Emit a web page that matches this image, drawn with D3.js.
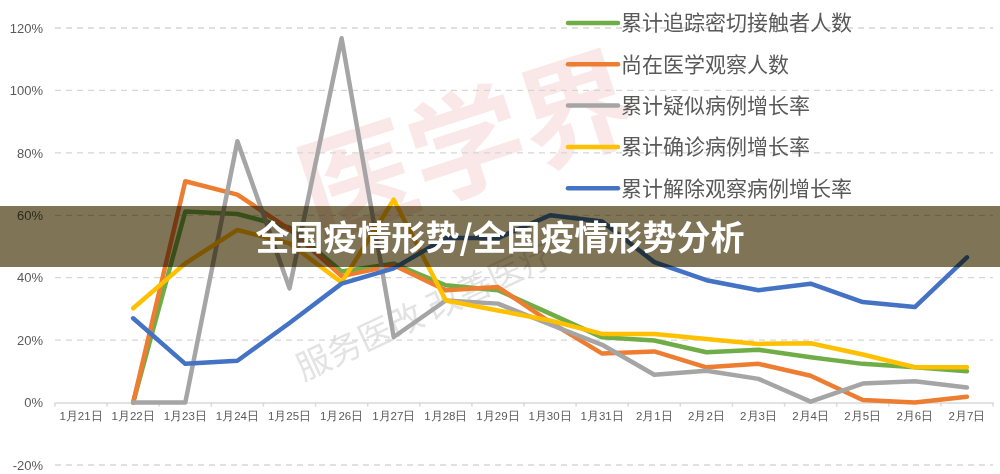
<!DOCTYPE html>
<html>
<head>
<meta charset="utf-8">
<script src="https://cdn.jsdelivr.net/npm/d3@7"></script>
<style>
  body { margin: 0; background: #fff; }
  svg { display: block; font-family: "Noto Sans CJK SC", "Noto Sans", sans-serif; }
</style>
</head>
<body>
<svg width="1000" height="474"></svg>
<script>
// categories (x axis)
const dates = ["1月21日","1月22日","1月23日","1月24日","1月25日","1月26日","1月27日","1月28日","1月29日",
  "1月30日","1月31日","2月1日","2月2日","2月3日","2月4日","2月5日","2月6日","2月7日"];

// series values (percent), null = no point
const contacts  = [null, 0, 61.2, 60.4, 56, 42, 44.5, 37.6, 36, 28.5, 20.9, 19.9, 16.1, 16.9, 14.5, 12.4, 11.3, 10];
const observing = [null, 0, 70.9, 66.6, 55.5, 40.5, 44, 36, 37, 25.8, 15.7, 16.4, 11.3, 12.4, 8.6, 0.8, 0, 1.9];
const suspected = [null, 0, 0, 83.7, 36.6, 116.7, 21, 32.7, 31.7, 25, 18.5, 8.9, 10.2, 7.6, 0.3, 6.1, 6.8, 4.8];
const confirmed = [null, 30.2, 44.6, 55.3, 51, 38.5, 65, 32.7, 29.5, 26.3, 22, 22, 20.4, 18.8, 19, 15.4, 11.3, 11.3];
const released  = [null, 27, 12.4, 13.4, 25.5, 38.1, 43, 52.7, 52.7, 60, 58, 45, 39.2, 36, 38.1, 32.2, 30.6, 46.5];

const yTicks = [-20, 0, 20, 40, 60, 80, 100, 120];

const seriesNames = ["累计追踪密切接触者人数","尚在医学观察人数","累计疑似病例增长率","累计确诊病例增长率","累计解除观察病例增长率"];
const seriesColors = ["#70ad47","#ed7d31","#a5a5a5","#ffc000","#4472c4"];
const seriesData = [contacts, observing, suspected, confirmed, released];

const title = "全国疫情形势/全国疫情形势分析";

const svg = d3.select("svg");
const width = 1000, height = 474;
const left = 55, right = 993;

// scales
const x = d3.scaleBand().domain(dates).range([left, right]);
const y = d3.scaleLinear().domain([-20, 120]).range([465, 28]);

// watermark
svg.append("text")
  .attr("x", 480).attr("y", 185)
  .attr("text-anchor", "middle")
  .attr("transform", "rotate(-18,480,185)")
  .style("font-size", "115px")
  .style("font-weight", "bold")
  .style("fill", "#e06060")
  .style("opacity", 0.14)
  .text("医学界");
svg.append("text")
  .attr("x", 430).attr("y", 322)
  .attr("text-anchor", "middle")
  .attr("transform", "rotate(-25,430,322)")
  .style("font-size", "34px")
  .style("fill", "#b0b0b0")
  .style("opacity", 0.35)
  .text("服务医改 改善医疗");

// gridlines
svg.append("g")
  .selectAll("line")
  .data(yTicks.filter(d => d !== 0))
  .enter().append("line")
  .attr("x1", left).attr("x2", right)
  .attr("y1", d => y(d)).attr("y2", d => y(d))
  .style("stroke", "#d6d6d6")
  .style("stroke-width", 1.3)
  .style("stroke-dasharray", "6,5");

// y axis labels
const yAxis = d3.axisLeft(y).tickValues(yTicks).tickFormat(d => d + "%").tickSize(0).tickPadding(12);
const gy = svg.append("g").attr("transform", "translate(" + left + ",0)").call(yAxis);
gy.select(".domain").remove();
gy.selectAll("text").style("font-size", "13px").style("fill", "#595959").style("font-family", "Liberation Sans, Arial, sans-serif");

// x axis at 0%
const xAxis = d3.axisBottom(x).tickSize(0).tickPadding(9);
const gx = svg.append("g").attr("transform", "translate(0," + y(0) + ")").call(xAxis);
gx.select(".domain").style("stroke", "#d9d9d9").style("stroke-width", 1.5);
gx.selectAll("text").style("font-size", "11.5px").style("fill", "#595959");
// tick marks on band boundaries
gx.selectAll("line.bnd")
  .data(dates.concat([null]))
  .enter().append("line")
  .attr("class", "bnd")
  .attr("x1", (d, i) => left + i * x.step()).attr("x2", (d, i) => left + i * x.step())
  .attr("y1", 0).attr("y2", 4)
  .style("stroke", "#d9d9d9").style("stroke-width", 1.5);

// lines
const line = d3.line()
  .defined(d => d.v !== null)
  .x(d => x(d.k) + x.bandwidth() / 2)
  .y(d => y(d.v));

seriesData.forEach((s, i) => {
  svg.append("path")
    .datum(s.map((v, j) => ({ k: dates[j], v: v })))
    .attr("d", line)
    .style("fill", "none")
    .style("stroke", seriesColors[i])
    .style("stroke-width", 4.5)
    .style("stroke-linejoin", "round")
    .style("stroke-linecap", "round");
});

// legend
const legend = svg.append("g").attr("transform", "translate(568,23)");
seriesNames.forEach((n, i) => {
  const g = legend.append("g").attr("transform", "translate(0," + (i * 41.3) + ")");
  g.append("line").attr("x1", 0).attr("x2", 50).attr("y1", 0).attr("y2", 0)
    .style("stroke", seriesColors[i]).style("stroke-width", 4.5).style("stroke-linecap", "round");
  g.append("text").attr("x", 53).attr("y", 0).attr("dy", "0.35em")
    .style("font-size", "21px").style("fill", "#595959").text(n);
});

// title band
svg.append("rect")
  .attr("x", 0).attr("y", 206).attr("width", width).attr("height", 61)
  .style("fill", "#7f7456")
  .style("mix-blend-mode", "multiply");
svg.append("text")
  .attr("x", 500).attr("y", 238).attr("dy", "0.35em")
  .attr("text-anchor", "middle")
  .style("font-size", "34px").style("font-weight", "bold").style("fill", "#fff")
  .text(title);
</script>
</body>
</html>
